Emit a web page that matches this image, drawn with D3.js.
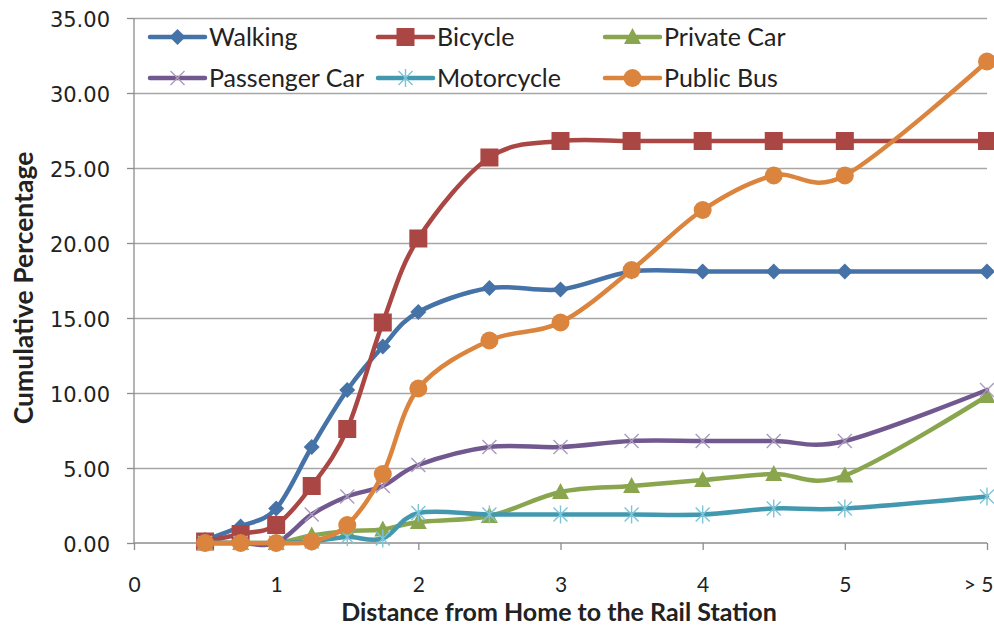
<!DOCTYPE html>
<html>
<head>
<meta charset="utf-8">
<script src="https://cdn.jsdelivr.net/npm/d3@7"></script>
<style>
  html, body { margin: 0; padding: 0; background: #fff; }
  svg { display: block; }
</style>
</head>
<body>
<svg id="chart" width="994" height="628"></svg>
<script>
// Distance categories (">5" is placed at position 6 on the axis)
const distances = [0.5, 0.75, 1, 1.25, 1.5, 1.75, 2, 2.5, 3, 3.5, 4, 4.5, 5, 6];
const tickValues = [0, 1, 2, 3, 4, 5, 6];
const tickLabels = ["0", "1", "2", "3", "4", "5", "> 5"];
const yTicks = [0, 5, 10, 15, 20, 25, 30, 35];

// Cumulative percentage per travel mode
const walking      = [0.2, 1.1, 2.3, 6.4, 10.2, 13.1, 15.4, 17.0, 16.9, 18.1, 18.1, 18.1, 18.1, 18.1];
const bicycle      = [0.1, 0.6, 1.2, 3.8, 7.6, 14.7, 20.3, 25.7, 26.8, 26.8, 26.8, 26.8, 26.8, 26.8];
const privateCar   = [0, 0, 0, 0.5, 0.8, 0.9, 1.4, 1.8, 3.4, 3.8, 4.2, 4.6, 4.5, 9.8];
const passengerCar = [0, 0, 0, 1.9, 3.1, 3.8, 5.2, 6.4, 6.4, 6.8, 6.8, 6.8, 6.8, 10.2];
const motorcycle   = [0, 0, 0, 0.1, 0.4, 0.3, 2.0, 1.9, 1.9, 1.9, 1.9, 2.3, 2.3, 3.1];
const publicBus    = [0, 0, 0, 0.1, 1.2, 4.6, 10.3, 13.5, 14.7, 18.2, 22.2, 24.5, 24.5, 32.1];

const seriesNames = ["Walking", "Bicycle", "Private Car", "Passenger Car", "Motorcycle", "Public Bus"];
const seriesValues = [walking, bicycle, privateCar, passengerCar, motorcycle, publicBus];

const styles = {
  "Walking":       { line: "#4572A7", marker: "diamond",  fill: "#4572A7" },
  "Bicycle":       { line: "#AA4643", marker: "square",   fill: "#AA4643" },
  "Private Car":   { line: "#89A54E", marker: "triangle", fill: "#89A54E" },
  "Passenger Car": { line: "#71588F", marker: "cross",    fill: "#A99BBD" },
  "Motorcycle":    { line: "#4198AF", marker: "star",     fill: "#7CC4D8" },
  "Public Bus":    { line: "#DB843D", marker: "circle",   fill: "#DB843D" }
};

const svg = d3.select("#chart");

const x = d3.scaleLinear().domain([0, 6]).range([134, 987]);
const y = d3.scaleLinear().domain([0, 35]).range([543, 18]);

const gridColor = "#A6A6A6";
const axisColor = "#8C8C8C";
const labelFont = "Lato, 'Open Sans', sans-serif";

// Horizontal gridlines
svg.append("g")
  .selectAll("line")
  .data(yTicks.filter(d => d > 0))
  .join("line")
  .attr("x1", x(0)).attr("x2", x(6))
  .attr("y1", d => Math.round(y(d)) + 0.5).attr("y2", d => Math.round(y(d)) + 0.5)
  .attr("stroke", gridColor).attr("stroke-width", 1.3);

// Y axis
const yAxis = d3.axisLeft(y)
  .tickValues(yTicks)
  .tickFormat(d3.format(".2f"))
  .tickSize(7)
  .tickPadding(17);
const gy = svg.append("g")
  .attr("transform", `translate(${x(0)},0)`)
  .call(yAxis);
gy.select(".domain").attr("stroke", axisColor).attr("stroke-width", 1.3).attr("d", `M0,${y(0)}V${y(35)}`);
gy.selectAll(".tick line").attr("stroke", axisColor).attr("stroke-width", 1.3);
gy.selectAll(".tick text")
  .attr("fill", "#222")
  .attr("dy", "0.4em")
  .style("font-family", "'DejaVu Sans', Verdana, sans-serif")
  .style("font-size", "21px");

// X axis
const xAxis = d3.axisBottom(x)
  .tickValues(tickValues)
  .tickFormat((d, i) => tickLabels[i])
  .tickSize(7)
  .tickPadding(27);
const gx = svg.append("g")
  .attr("transform", `translate(0,${y(0)})`)
  .call(xAxis);
gx.select(".domain").attr("stroke", axisColor).attr("stroke-width", 1.3).attr("d", `M${x(0)},0H${x(6)}`);
gx.selectAll(".tick line").attr("stroke", axisColor).attr("stroke-width", 1.3);
gx.selectAll(".tick text")
  .attr("fill", "#222")
  .style("font-family", labelFont)
  .style("font-size", "21px");
// the last category label is kept inside the right edge
gx.selectAll(".tick text")
  .filter(d => d === 6)
  .attr("text-anchor", "end")
  .attr("x", 993 - x(6));

// Axis titles
svg.append("text")
  .attr("x", 559)
  .attr("y", 621)
  .attr("text-anchor", "middle")
  .style("font-family", labelFont)
  .style("font-weight", "bold")
  .style("font-size", "25px")
  .attr("fill", "#222")
  .text("Distance from Home to the Rail Station");

svg.append("text")
  .attr("transform", `translate(33,288) rotate(-90)`)
  .attr("text-anchor", "middle")
  .style("font-family", labelFont)
  .style("font-weight", "bold")
  .style("font-size", "26.5px")
  .attr("fill", "#222")
  .text("Cumulative Percentage");

// Marker shapes
function drawMarker(g, type, fill) {
  switch (type) {
    case "diamond":
      g.append("path").attr("d", "M0,-8L8,0L0,8L-8,0Z").attr("fill", fill);
      break;
    case "square":
      g.append("rect").attr("x", -9).attr("y", -9).attr("width", 18).attr("height", 18).attr("fill", fill);
      break;
    case "triangle":
      g.append("path").attr("d", "M0,-9L8.5,7L-8.5,7Z").attr("fill", fill);
      break;
    case "circle":
      g.append("circle").attr("r", 9).attr("fill", fill);
      break;
    case "cross":
      g.append("path").attr("d", "M-7,-7L7,7M-7,7L7,-7").attr("stroke", fill).attr("stroke-width", 1.4).attr("fill", "none");
      break;
    case "star":
      g.append("path").attr("d", "M-7,-7L7,7M-7,7L7,-7M0,-9V9").attr("stroke", fill).attr("stroke-width", 1.4).attr("fill", "none");
      break;
  }
}

// Smoothed series lines with markers
const line = d3.line()
  .x((d, i) => x(distances[i]))
  .y(d => y(d))
  .curve(d3.curveCardinal.tension(0));

seriesNames.forEach((name, si) => {
  const vals = seriesValues[si];
  const st = styles[name];
  const g = svg.append("g").attr("class", "series");
  g.append("path")
    .datum(vals)
    .attr("d", line)
    .attr("fill", "none")
    .attr("stroke", st.line)
    .attr("stroke-width", 4.5)
    .attr("stroke-linejoin", "round")
    .attr("stroke-linecap", "round");
  vals.forEach((v, i) => {
    const m = g.append("g").attr("transform", `translate(${x(distances[i])},${y(v)})`);
    drawMarker(m, st.marker, st.fill);
  });
});

// Legend
const legendCols = [150, 378, 605];
const legendRows = [37, 78];
const legend = svg.append("g").attr("class", "legend");
seriesNames.forEach((name, i) => {
  const lx = legendCols[i % 3];
  const ly = legendRows[Math.floor(i / 3)];
  const st = styles[name];
  const g = legend.append("g").attr("transform", `translate(${lx},${ly})`);
  g.append("line")
    .attr("x1", 0).attr("x2", 55)
    .attr("y1", 0).attr("y2", 0)
    .attr("stroke", st.line).attr("stroke-width", 4.5).attr("stroke-linecap", "round");
  drawMarker(g.append("g").attr("transform", "translate(27.5,0)"), st.marker, st.fill);
  g.append("text")
    .attr("x", 59)
    .attr("y", 0)
    .attr("dy", "0.35em")
    .style("font-family", labelFont)
    .style("font-size", "25px")
    .attr("fill", "#222")
    .text(name);
});
</script>
</body>
</html>
